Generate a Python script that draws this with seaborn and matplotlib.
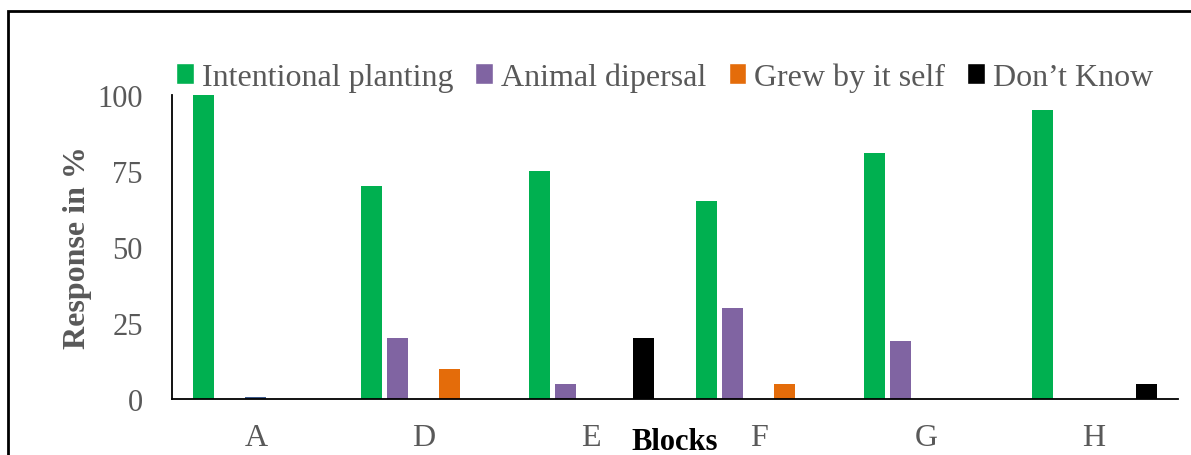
import numpy as np
import pandas as pd
import matplotlib
matplotlib.use("Agg")
import matplotlib.pyplot as plt
import seaborn as sns
from matplotlib.patches import Patch, Rectangle
from matplotlib.ticker import FixedLocator

sns.set_style("white")
plt.rcParams['font.family'] = ['Liberation Serif', 'DejaVu Serif']

# data
blocks = ['A', 'D', 'E', 'F', 'G', 'H']
intentional = [100, 70, 75, 65, 81, 95]
animal = [0, 20, 5, 30, 19, 0]
unlabeled = [0.8, 0, 0, 0, 0, 0]   # small blue bar in A, not in the legend
grew_self = [0, 10, 0, 5, 0, 0]
dont_know = [0, 0, 20, 0, 0, 5]

series = ['Intentional planting', 'Animal dipersal', 'Other', 'Grew by it self', 'Don\u2019t Know']
colors = ['#00B050', '#8064A2', '#3E5B8C', '#E46C0A', '#000000']

df = pd.DataFrame({
    'Block': blocks * 5,
    'Source': np.repeat(series, len(blocks)),
    'Response': intentional + animal + unlabeled + grew_self + dont_know,
})

fig = plt.figure(figsize=(11.91, 4.56), dpi=100)
ax = fig.add_axes([172 / 1191, 56 / 456, 1006 / 1191, 304 / 456])

sns.barplot(data=df, x='Block', y='Response', hue='Source', hue_order=series,
            palette=colors, width=0.774, gap=0.19, ax=ax, legend=False,
            saturation=1, linewidth=0)

ax.set_xlim(-0.5, 5.5)
ax.set_ylim(0, 100)
ax.set_yticks([0, 25, 50, 75, 100])
ax.xaxis.set_minor_locator(FixedLocator(np.arange(-0.5, 6, 1)))
ax.tick_params(axis='x', which='major', length=0, labelsize=23, colors='#595959', pad=17)
ax.tick_params(axis='x', which='minor', length=7, width=1.3, color='black', direction='out')
ax.tick_params(axis='y', length=7, width=1.3, color='black', direction='out',
               labelsize=22, labelcolor='#595959', pad=14)
for s in ['top', 'right']:
    ax.spines[s].set_visible(False)
for s in ['left', 'bottom']:
    ax.spines[s].set_color('black')
    ax.spines[s].set_linewidth(1.3)

ax.set_ylabel('Response in %', fontsize=23, fontweight='bold', color='#595959', labelpad=4)
ax.set_xlabel('Blocks', fontsize=22, fontweight='bold', color='black', labelpad=-18)

handles = [Patch(facecolor=c, label=s) for c, s in zip(colors, series) if s != 'Other']
fig.legend(handles=handles, loc='center left', bbox_to_anchor=(176 / 1191, 1 - 78 / 456),
           ncol=4, frameon=False, fontsize=23, handlelength=0.55, handleheight=0.65,
           handletextpad=0.25, columnspacing=0.7, borderaxespad=0, borderpad=0,
           labelcolor='#595959')

fig.patches.append(Rectangle((8 / 1191, -0.1), 1.2, (456 - 12) / 456 + 0.1,
                             transform=fig.transFigure, fill=False,
                             edgecolor='black', linewidth=2))

fig.savefig('out.png', dpi=100)
